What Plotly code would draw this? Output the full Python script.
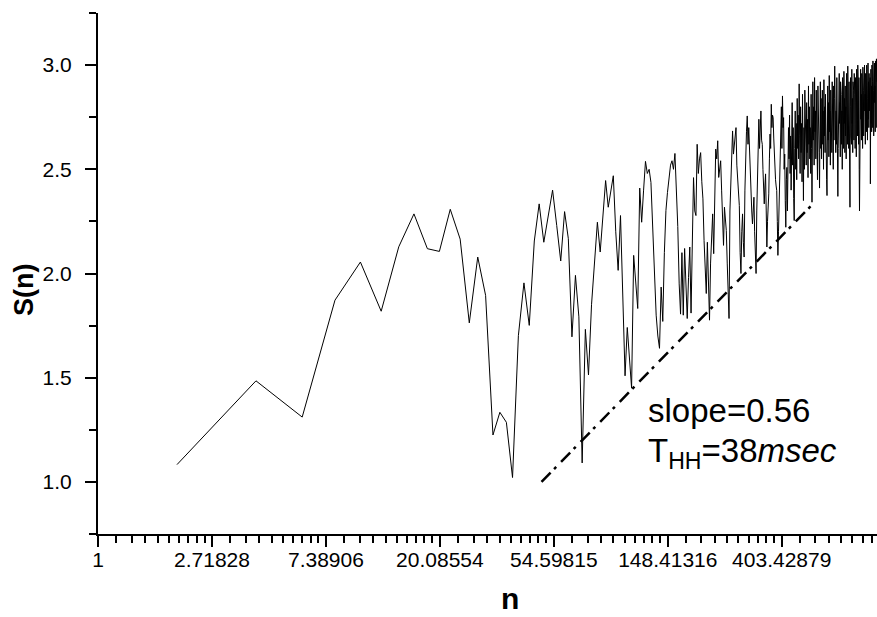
import math
import plotly.graph_objects as go

# ---- data: S(n), n = 2, 4, 6, ...
s_early = [1.083, 1.485, 1.311, 1.872, 2.055, 1.819, 2.128, 2.286, 2.119, 2.106,
           2.308, 2.165, 1.763, 2.079, 1.895, 1.225, 1.334, 1.286, 1.021, 1.702,
           1.955, 1.751, 2.156, 2.334, 2.150, 2.280, 2.400, 2.230, 2.060, 2.297,
           2.167, 1.696, 1.991, 1.792, 1.091, 1.732, 1.513, 1.850, 2.079, 2.246,
           2.103, 2.300, 2.446, 2.318, 2.400, 2.469, 2.200, 2.015, 2.278, 1.900,
           1.509, 1.741, 1.600, 1.450, 2.087, 1.950, 1.832, 2.410, 2.246, 2.400,
           2.538, 2.480, 2.500, 2.437, 2.200, 1.935, 1.800, 1.700, 1.641, 1.935,
           1.770, 2.100, 2.302, 2.389, 2.446, 2.520, 2.541, 2.500, 2.576, 2.400,
           2.226, 1.950, 1.805, 2.100, 1.800]

s_mid = [2.12, 1.96, 1.784, 1.98, 2.127, 1.81, 2.20, 2.46, 2.30, 2.278,
         2.62, 2.48, 2.55, 2.58, 2.44, 2.358, 2.159, 2.05, 1.904, 2.15,
         1.98, 1.776, 2.05, 2.20, 2.286, 2.095, 2.45, 2.597, 2.55, 2.637,
         2.461, 2.50, 2.541, 2.40, 2.20, 2.135, 2.318, 2.25, 2.206, 2.05,
         1.90, 1.784, 2.30, 2.48, 2.62, 2.684, 2.573, 2.62, 2.66, 2.70,
         2.52, 2.46, 2.38, 2.326, 2.10, 2.0, 2.20, 2.286, 2.15, 2.079,
         2.40, 2.637, 2.68, 2.756, 2.62, 2.70, 2.58, 2.50, 2.446, 2.30,
         2.238, 2.32, 2.366, 2.20, 2.05, 2.0, 2.30, 2.478, 2.62, 2.74,
         2.60, 2.76, 2.78, 2.64, 2.62, 2.50, 2.40, 2.334, 2.42, 2.478,
         2.30, 2.127, 2.25, 2.32, 2.382, 2.55, 2.669, 2.60, 2.812, 2.70,
         2.76, 2.748, 2.65, 2.56, 2.509, 2.45, 2.42, 2.398, 2.25, 2.087,
         2.20, 2.30, 2.446, 2.56, 2.684]

s_late = [2.80, 2.60, 2.852, 2.70, 2.748, 2.50, 2.573, 2.35, 2.222, 2.45,
          2.509, 2.30, 2.62, 2.70, 2.55, 2.76, 2.48, 2.66, 2.40, 2.58,
          2.82, 2.52, 2.70, 2.36, 2.254, 2.60, 2.78, 2.50, 2.72, 2.45,
          2.84, 2.60, 2.76, 2.55, 2.91, 2.66, 2.48, 2.80, 2.58, 2.72,
          2.44, 2.86, 2.62, 2.35, 2.70, 2.50, 2.88, 2.64, 2.78, 2.52,
          2.82, 2.58, 2.74, 2.46, 2.90, 2.62, 2.80, 2.55, 2.70, 2.48,
          2.86, 2.60, 2.342, 2.75, 2.92, 2.64, 2.80, 2.52, 2.94, 2.68,
          2.78, 2.55, 2.88, 2.62, 2.74, 2.45, 2.90, 2.66, 2.82, 2.58,
          2.41, 2.76, 2.92, 2.60, 2.84, 2.55, 2.70, 2.88, 2.62, 2.78,
          2.50, 2.93, 2.66, 2.80, 2.58, 2.86, 2.62, 2.74, 2.45, 2.374,
          2.70, 2.90, 2.64, 2.82, 2.56, 2.95, 2.68, 2.78, 2.52, 2.88,
          2.62, 2.80, 2.58, 2.92, 2.66, 2.76, 2.50, 2.90, 2.64, 2.84,
          2.995, 2.70, 2.86, 2.58, 2.78, 2.62, 2.94, 2.68, 2.80, 2.37,
          2.60, 2.88, 2.66, 2.96, 2.72, 2.82, 2.56, 2.92, 2.68, 2.86,
          2.62, 2.78, 2.50, 2.94, 2.70, 2.88, 2.60, 2.97, 2.72, 2.84,
          2.58, 2.90, 2.66, 2.80, 2.55, 2.96, 2.70, 2.86, 2.62, 2.995,
          2.74, 2.88, 2.60, 2.92, 2.68, 2.45, 2.318, 2.80, 2.94, 2.66,
          2.86, 2.62, 2.98, 2.72, 2.84, 2.58, 2.92, 2.68, 2.88, 2.64,
          2.96, 2.74, 2.86, 2.60, 2.94, 2.70, 2.82, 2.56, 2.98, 2.72,
          2.90, 2.66, 3.00, 2.76, 2.88, 2.62, 2.94, 2.50, 2.30, 2.70,
          2.92, 2.68, 2.98, 2.74, 2.86, 2.64, 2.96, 2.72, 2.90, 2.60,
          2.99, 2.76, 2.88, 2.66, 2.94, 2.70, 3.00, 2.78, 2.86, 2.62,
          2.96, 2.72, 2.90, 2.68, 3.00, 2.76, 2.84, 2.64, 2.98, 3.01,
          2.74, 2.92, 2.70, 2.96, 2.78, 2.88, 2.60, 2.94, 2.43, 2.76,
          2.98, 2.72, 2.90, 2.68, 3.00, 2.80, 2.92, 2.70, 3.02, 2.76,
          2.88, 2.66, 2.96, 2.74, 3.01, 2.82, 2.90, 2.68, 3.02, 2.78,
          2.94, 2.70, 3.03, 2.80, 2.92]

s_values = s_early + s_mid + s_late
n_values = [2 * (i + 1) for i in range(len(s_values))]

# fitted line
fit_slope = 0.56
fit_n = [49.0, 540.0]
fit_s_start = 1.0
fit_s = [fit_s_start + fit_slope * math.log(v / fit_n[0]) for v in fit_n]

# x ticks (powers of e)
tick_vals = [math.e ** k for k in range(7)]
tick_text = ["1", "2.71828", "7.38906", "20.08554", "54.59815", "148.41316", "403.42879"]
minor_vals = []
for k in range(7):
    a, b = math.e ** k, math.e ** (k + 1)
    for j in range(1, 10):
        minor_vals.append(a + j * (b - a) / 10)

x_max = 930.5

FONT = "Liberation Sans, Arial, sans-serif"

fig = go.Figure()
fig.add_trace(go.Scatter(x=n_values, y=s_values, mode="lines",
                         line=dict(color="black", width=1), showlegend=False,
                         hoverinfo="skip"))
fig.add_trace(go.Scatter(x=fit_n, y=fit_s, mode="lines",
                         line=dict(color="black", width=2.5, dash="13px,5px,3px,7px"),
                         showlegend=False, hoverinfo="skip"))

W, H = 877, 617
ML, MR, MT, MB = 98, 0, 13, 83
pw, ph = W - ML - MR, H - MT - MB

def px(x):
    return (x - ML) / pw

def py(y):
    return (H - MB - y) / ph

fig.update_layout(
    width=W, height=H,
    margin=dict(l=ML, r=MR, t=MT, b=MB),
    paper_bgcolor="white", plot_bgcolor="white",
    font=dict(family=FONT, size=21, color="black"),
    showlegend=False,
    xaxis=dict(type="log", range=[0, math.log10(x_max)],
               showline=True, linecolor="black", linewidth=2,
               showgrid=False, zeroline=False,
               ticks="outside", ticklen=11, tickwidth=2, tickcolor="black",
               tickvals=tick_vals, ticktext=tick_text,
               tickfont=dict(family=FONT, size=21, color="black"),
               ticklabelstandoff=-5,
               minor=dict(tickvals=minor_vals, ticks="outside", ticklen=7,
                          tickwidth=2, tickcolor="black", showgrid=False)),
    yaxis=dict(range=[0.75, 3.25], showline=True, linecolor="black", linewidth=2,
               showgrid=False, zeroline=False,
               ticks="outside", ticklen=11, tickwidth=2, tickcolor="black",
               tickvals=[1.0, 1.5, 2.0, 2.5, 3.0],
               ticktext=["1.0", "1.5", "2.0", "2.5", "3.0"],
               tickfont=dict(family=FONT, size=21, color="black"),
               ticklabelstandoff=9,
               minor=dict(tick0=0.0, dtick=0.25, ticks="outside", ticklen=7,
                          tickwidth=2, tickcolor="black", showgrid=False)),
    annotations=[
        dict(text="<b>n</b>", xref="paper", yref="paper", x=px(510), y=py(598),
             xanchor="center", yanchor="middle", showarrow=False,
             font=dict(family=FONT, size=30, color="black")),
        dict(text="<b>S(n)</b>", xref="paper", yref="paper", x=px(24), y=py(290),
             xanchor="center", yanchor="middle", showarrow=False, textangle=-90,
             font=dict(family=FONT, size=27, color="black")),
        dict(text="slope=0.56", xref="paper", yref="paper", x=px(646), y=py(410),
             xanchor="left", yanchor="middle", showarrow=False,
             font=dict(family=FONT, size=33, color="black")),
        dict(text="T<sub>HH</sub>=38<i>msec</i>", xref="paper", yref="paper",
             x=px(646), y=py(453), xanchor="left", yanchor="middle", showarrow=False,
             font=dict(family=FONT, size=33, color="black")),
    ],
)

fig.write_html("out.html", config={"displayModeBar": False},
               post_script="document.body.style.margin='0px';document.body.style.padding='0px';")
